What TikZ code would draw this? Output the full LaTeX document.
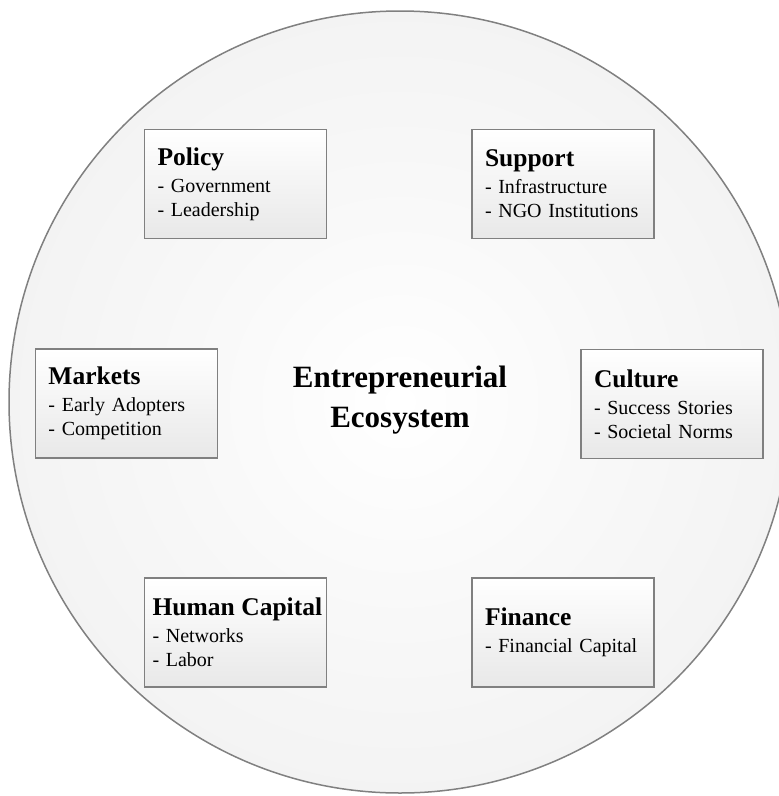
\documentclass[tikz,border=0pt]{standalone}
\usepackage{fontspec}
\setmainfont{Liberation Serif}
\usetikzlibrary{positioning}

\pgfdeclareradialshading{ecoglow}{\pgfpoint{0bp}{0bp}}{color(0bp)=(white); color(10bp)=(white!98!black); color(50bp)=(white!91!black); color(100bp)=(white!91!black)}
\newcommand{\pillarhead}[1]{{\bfseries\fontsize{25.5}{27}\selectfont #1}}
\newcommand{\pillarfont}{\fontsize{20}{24}\selectfont\hyphenpenalty=10000\relax}
\tikzset{
    pillar/.style={draw=black!50, line width=1.2pt, top color=white, bottom color=black!9,
        minimum height=109pt, text width=156pt, inner xsep=13pt, align=left,
        font=\pillarfont},
    core/.style={align=center, font=\bfseries\fontsize{31}{40}\selectfont}
}

\begin{document}
\begin{tikzpicture}[x=1pt,y=-1pt]
\useasboundingbox (0,0) rectangle (779,796);
\path[shading=ecoglow, draw=black!50, line width=1.5pt] (400,402) circle[radius=391pt];
\node[core] (eco) at (400,400) {Entrepreneurial\\Ecosystem};
\node[pillar] (policy) at (235.5,184) {\pillarhead{Policy}\\[3pt]- Government\\- Leadership};
\node[pillar] (support) at (563,184) {\pillarhead{Support}\\[3pt]- Infrastructure\\\mbox{- NGO Institutions}};
\node[pillar] (markets) at (126.5,403.5) {\pillarhead{Markets}\\[3pt]- Early Adopters\\- Competition};
\node[pillar] (culture) at (672,404) {\pillarhead{Culture}\\[3pt]- Success Stories\\- Societal Norms};
\node[pillar, text width=174pt, inner xsep=4pt] (humancap) at (235.5,632.5) {\hspace*{4pt}\pillarhead{Human Capital}\\[3pt]\hspace*{4pt}- Networks\\\hspace*{4pt}- Labor};
\node[pillar] (finance) at (563,632.5) {\pillarhead{Finance}\\[3pt]- Financial Capital};
\end{tikzpicture}
\end{document}
